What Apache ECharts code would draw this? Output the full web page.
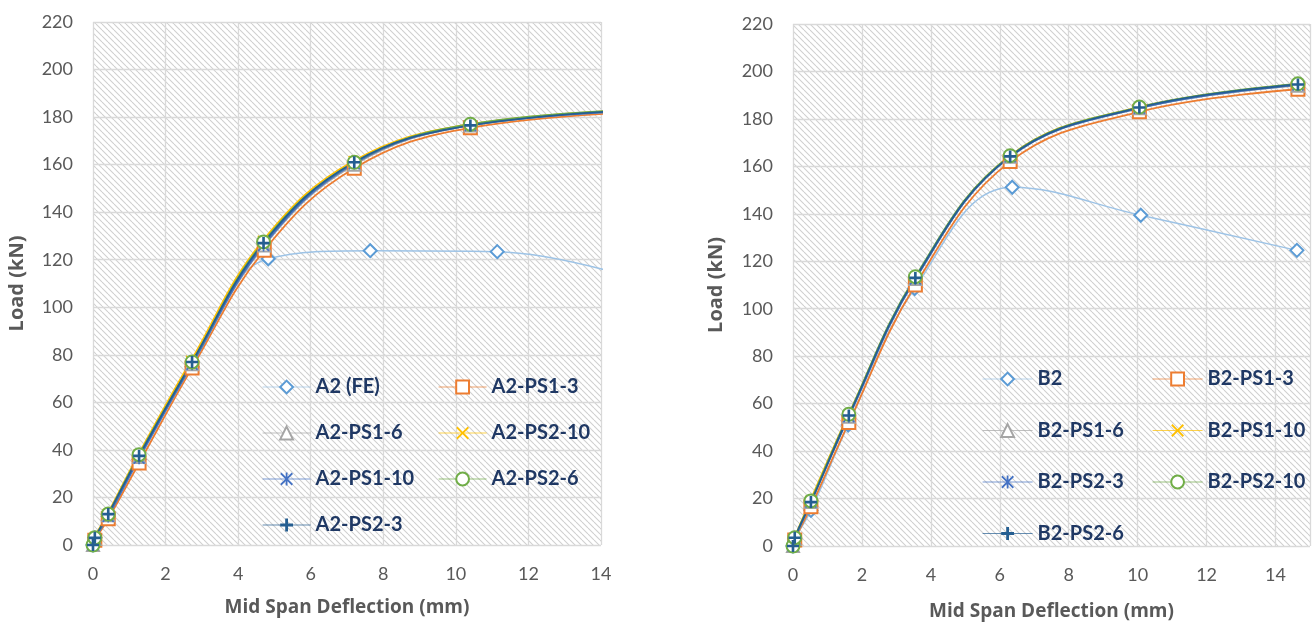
<!DOCTYPE html>
<html>
<head>
<meta charset="utf-8">
<script src="https://cdn.jsdelivr.net/npm/echarts@6/dist/echarts.min.js"></script>
<style>
  html, body { margin: 0; padding: 0; background: #fff; }
  #main { width: 1314px; height: 626px; }
</style>
</head>
<body>
<div id="main"></div>
<script>
// Left chart (A2) - [deflection mm, load kN]
const a2FE     = [[0, 0], [0.05, 3], [0.42, 12], [1.27, 36], [2.73, 75], [4.83, 120.4], [7.64, 123.8], [11.14, 123.4], [15.6, 109]];
const a2PS1_3  = [[0, -0.5], [0.05, 2], [0.42, 11], [1.27, 34.5], [2.73, 74.5], [4.72, 124], [7.2, 158.5], [10.4, 175.5], [16.5, 183]];
const a2PS1_6  = [[0, 0], [0.05, 2.5], [0.42, 12.5], [1.27, 37], [2.73, 76], [4.72, 126], [7.2, 160], [10.4, 176.5], [16.5, 183.5]];
const a2PS2_10 = [[0, 0.5], [0.05, 3.5], [0.4, 13], [1.25, 38], [2.7, 77.5], [4.68, 128], [7.18, 161.5], [10.4, 177], [16.5, 184]];
const a2PS1_10 = [[0, 0], [0.05, 2.5], [0.42, 12], [1.27, 36.5], [2.73, 76], [4.7, 126], [7.2, 160.5], [10.4, 176.5], [16.5, 183.5]];
const a2PS2_6  = [[0, 0], [0.05, 3], [0.42, 13], [1.27, 38], [2.73, 77], [4.7, 127.5], [7.2, 161], [10.4, 177], [16.5, 184]];
const a2PS2_3  = [[0, 0], [0.05, 3], [0.42, 13], [1.27, 37.5], [2.73, 77], [4.7, 127], [7.2, 161], [10.4, 176.5], [16.5, 184]];

// Right chart (B2)
const b2       = [[0, 0], [0.05, 3], [0.52, 15], [1.6, 51], [3.53, 108.5], [6.36, 151.2], [10.09, 139.4], [14.62, 124.6]];
const b2PS1_3  = [[0, -0.5], [0.05, 2.5], [0.52, 16.5], [1.62, 52], [3.55, 110], [6.3, 162], [10.05, 183], [14.65, 192.5]];
const b2PS1_6  = [[0, 0], [0.05, 3], [0.52, 18.5], [1.62, 54.5], [3.55, 112.5], [6.3, 164], [10.05, 184.5], [14.65, 194]];
const b2PS1_10 = [[0, 0.5], [0.05, 3.5], [0.5, 19], [1.6, 55], [3.55, 113], [6.3, 164.5], [10.05, 185], [14.65, 194.5]];
const b2PS2_3  = [[0, 0], [0.05, 3], [0.52, 18.5], [1.62, 54.5], [3.55, 112.5], [6.3, 164], [10.05, 184.5], [14.65, 194.3]];
const b2PS2_10 = [[0, 0], [0.05, 3.5], [0.52, 19], [1.62, 55.5], [3.55, 113.5], [6.3, 164.5], [10.05, 185], [14.65, 194.8]];
const b2PS2_6  = [[0, 0], [0.05, 3.5], [0.52, 18.5], [1.62, 55], [3.55, 113], [6.3, 164.2], [10.05, 184.8], [14.65, 194.5]];

const yTicks = { min: 0, max: 220, interval: 20 };
const xTicksA = { min: 0, max: 14, interval: 2 };
const xTicksB = { min: 0, max: 15, interval: 2 };

const FONT = 'Lato';
const NAME_FONT = 'Open Sans';
const GRAY = '#595959';
const NAVY = '#1F3864';

// symbol shapes
const PLUS = 'path://M3.9,0H6.1V3.9H10V6.1H6.1V10H3.9V6.1H0V3.9H3.9Z';
const XMARK = 'path://M1,0L5,4L9,0L10,1L6,5L10,9L9,10L5,6L1,10L0,9L4,5L0,1Z';
const STAR = 'path://M1,0L5,4L9,0L10,1L6,5L10,9L9,10L5,6L1,10L0,9L4,5L0,1ZM4.3,0H5.7V10H4.3Z';

function hatch() {
  const c = document.createElement('canvas');
  c.width = 6; c.height = 6;
  const g = c.getContext('2d');
  g.fillStyle = '#ffffff';
  g.fillRect(0, 0, 6, 6);
  g.strokeStyle = '#cfcfcf';
  g.lineWidth = 1.1;
  for (const k of [-6, 0, 6]) {
    g.beginPath();
    g.moveTo(k, 0);
    g.lineTo(k + 6, 6);
    g.stroke();
  }
  return c;
}
const pattern = { image: hatch(), repeat: 'repeat' };

function series(name, data, idx, color, symbol, size, lineColor, lineWidth) {
  const empty = symbol.indexOf('empty') === 0;
  return {
    name: name,
    type: 'line',
    xAxisIndex: idx,
    yAxisIndex: idx,
    data: data,
    smooth: 0.4,
    symbol: symbol,
    symbolSize: size,
    showAllSymbol: true,
    clip: true,
    lineStyle: { color: lineColor || color, width: lineWidth || 1.8 },
    itemStyle: empty ? { color: color, borderColor: color, borderWidth: 2 } : { color: color, borderWidth: 0 },
    emphasis: { disabled: true }
  };
}

function xAxis(idx, t, gap) {
  return {
    type: 'value', gridIndex: idx, min: t.min, max: t.max, interval: t.interval,
    name: 'Mid Span Deflection (mm)', nameLocation: 'middle', nameGap: gap,
    nameTextStyle: { fontFamily: NAME_FONT, fontWeight: 'bold', fontSize: 19, color: GRAY },
    axisLine: { show: false }, axisTick: { show: false },
    axisLabel: { fontFamily: FONT, fontSize: 18, color: GRAY, margin: 20, showMaxLabel: t.max % t.interval === 0 },
    splitLine: { lineStyle: { color: '#d9d9d9', width: 1.3 } }
  };
}

function yAxis(idx, gap) {
  return {
    type: 'value', gridIndex: idx, min: yTicks.min, max: yTicks.max, interval: yTicks.interval,
    name: 'Load (kN)', nameLocation: 'middle', nameGap: gap,
    nameTextStyle: { fontFamily: NAME_FONT, fontWeight: 'bold', fontSize: 20, color: GRAY },
    axisLine: { show: false }, axisTick: { show: false },
    axisLabel: { fontFamily: FONT, fontSize: 18, color: GRAY, margin: 20 },
    splitLine: { lineStyle: { color: '#d9d9d9', width: 1.3 } }
  };
}

function legend(names, left, top, gap, iw) {
  return {
    data: names, orient: 'vertical', left: left, top: top, padding: 0,
    itemWidth: iw, itemHeight: 16, itemGap: gap,
    selectedMode: false,
    lineStyle: { width: 1.2, opacity: 0.7 },
    textStyle: { fontFamily: FONT, fontWeight: 'bold', fontSize: 20, color: NAVY, lineHeight: 22 }
  };
}

const chart = echarts.init(document.getElementById('main'));
chart.setOption({
  animation: false,
  backgroundColor: '#ffffff',
  grid: [
    { left: 93, top: 22, width: 508, height: 523, show: true, borderWidth: 0, backgroundColor: pattern },
    { left: 793, top: 24, width: 517, height: 523, show: true, borderWidth: 0, backgroundColor: pattern }
  ],
  xAxis: [xAxis(0, xTicksA, 53), xAxis(1, xTicksB, 56)],
  yAxis: [yAxis(0, 66), yAxis(1, 67)],
  legend: [
    legend(['A2 (FE)', 'A2-PS1-6', 'A2-PS1-10', 'A2-PS2-3'], 262, 376, 24, 48),
    legend(['A2-PS1-3', 'A2-PS2-10', 'A2-PS2-6'], 438, 376, 24, 48),
    legend(['B2', 'B2-PS1-6', 'B2-PS2-3', 'B2-PS2-6'], 982, 368, 29.5, 50),
    legend(['B2-PS1-3', 'B2-PS1-10', 'B2-PS2-10'], 1152, 368, 29.5, 50)
  ],
  series: [
    series('A2 (FE)', a2FE, 0, '#5B9BD5', 'emptyDiamond', 13, '#9dc3e6', 1.5),
    series('A2-PS1-3', a2PS1_3, 0, '#ED7D31', 'emptyRect', 13),
    series('A2-PS1-6', a2PS1_6, 0, '#A5A5A5', 'emptyTriangle', 12),
    series('A2-PS2-10', a2PS2_10, 0, '#FFC000', XMARK, 11),
    series('A2-PS1-10', a2PS1_10, 0, '#4472C4', STAR, 12),
    series('A2-PS2-6', a2PS2_6, 0, '#70AD47', 'emptyCircle', 13),
    series('A2-PS2-3', a2PS2_3, 0, '#255E91', PLUS, 12),
    series('B2', b2, 1, '#5B9BD5', 'emptyDiamond', 13, '#9dc3e6', 1.5),
    series('B2-PS1-3', b2PS1_3, 1, '#ED7D31', 'emptyRect', 13),
    series('B2-PS1-6', b2PS1_6, 1, '#A5A5A5', 'emptyTriangle', 12),
    series('B2-PS1-10', b2PS1_10, 1, '#FFC000', XMARK, 11),
    series('B2-PS2-3', b2PS2_3, 1, '#4472C4', STAR, 12),
    series('B2-PS2-10', b2PS2_10, 1, '#70AD47', 'emptyCircle', 13),
    series('B2-PS2-6', b2PS2_6, 1, '#255E91', PLUS, 12)
  ]
});
</script>
</body>
</html>
